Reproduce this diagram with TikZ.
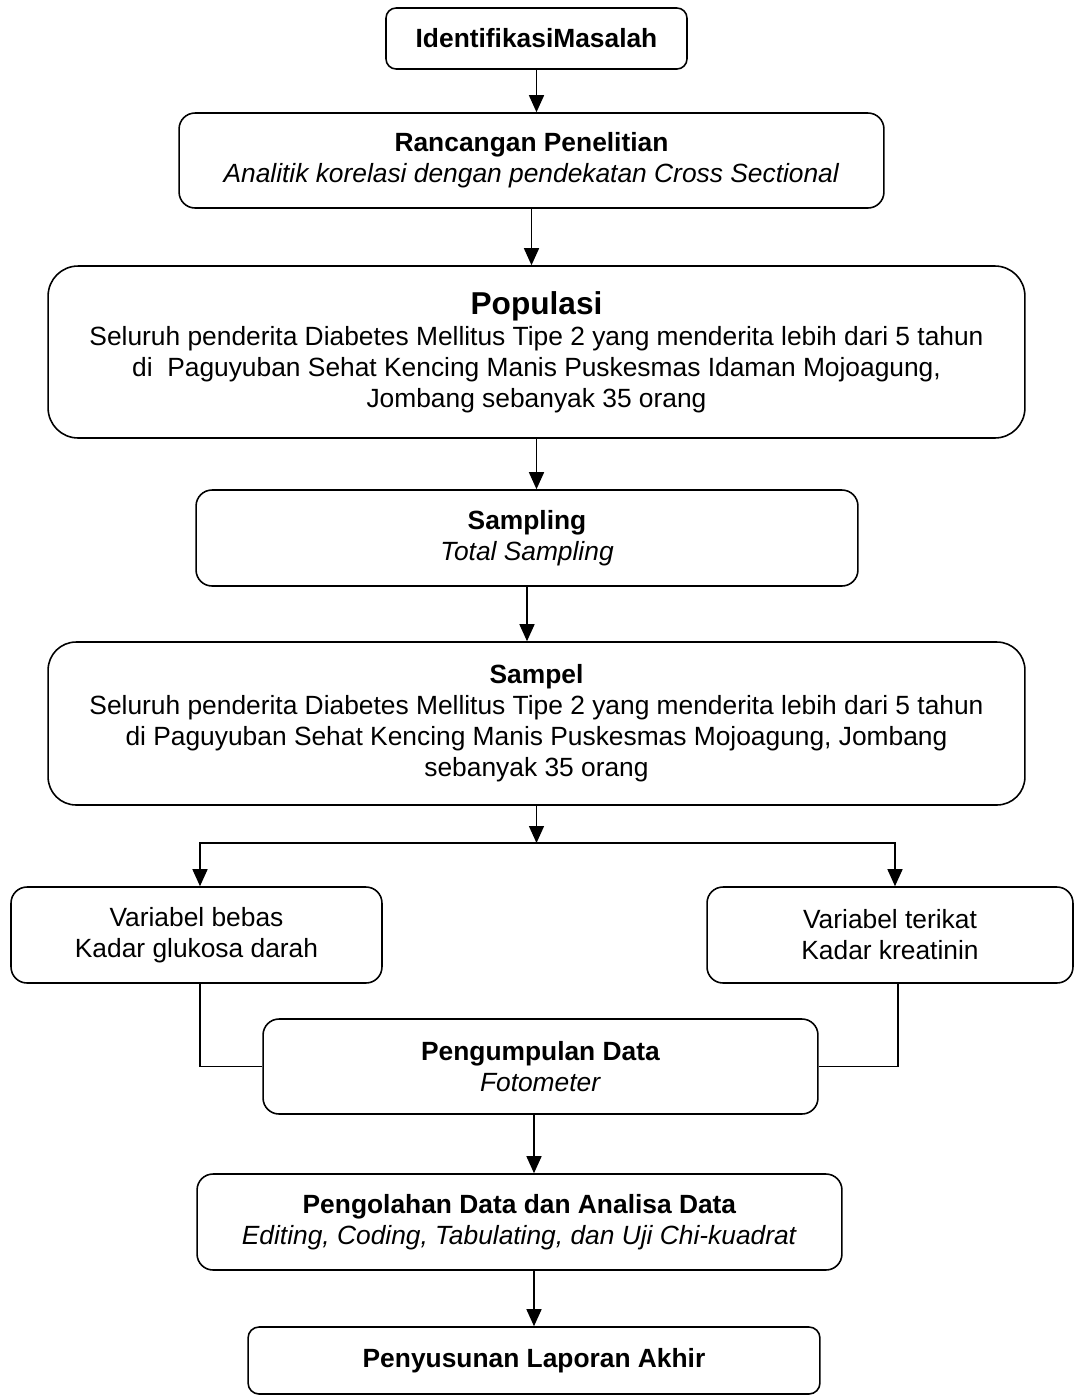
\documentclass[tikz,border=0pt]{standalone}
\usepackage{fontspec}
\setmainfont{Liberation Sans}
\usetikzlibrary{arrows.meta}

\tikzset{
  flowbox/.style={draw, line width=0.9pt, align=center, inner sep=2pt, font=\fontsize{15}{17.6}\selectfont},
  flowarrow/.style={-{Triangle[length=0.34cm,width=0.3cm]}, line width=0.8pt},
  flowline/.style={line width=0.8pt},
}

\begin{document}
\begin{tikzpicture}[x=0.02cm,y=-0.02cm]
  \useasboundingbox (0,0) rectangle (1075,1397);

  %--- Main flow ---
  \node[flowbox, rounded corners=0.2cm, minimum width=6.02cm, minimum height=1.22cm] (ident) at (536.5,38.5) {\textbf{IdentifikasiMasalah}};
  \node[flowbox, rounded corners=0.32cm, minimum width=14.1cm, minimum height=1.9cm] (ranc) at (531.5,160.5) {\textbf{Rancangan Penelitian}\\ \textit{Analitik korelasi dengan pendekatan Cross Sectional}};
  \node[flowbox, rounded corners=0.6cm, minimum width=19.54cm, minimum height=3.44cm] (pop) at (536.5,352) {{\fontsize{18}{21}\selectfont\textbf{Populasi}}\\ Seluruh penderita Diabetes Mellitus Tipe 2 yang menderita lebih dari 5 tahun\\ di\ \ Paguyuban Sehat Kencing Manis Puskesmas Idaman Mojoagung,\\ Jombang sebanyak 35 orang};
  \node[flowbox, rounded corners=0.32cm, minimum width=13.24cm, minimum height=1.92cm] (samp) at (527,538) {\textbf{Sampling}\\ \textit{Total Sampling}};
  \node[flowbox, rounded corners=0.56cm, minimum width=19.54cm, minimum height=3.26cm] (sampel) at (536.5,723.5) {\textbf{Sampel}\\ Seluruh penderita Diabetes Mellitus Tipe 2 yang menderita lebih dari 5 tahun\\ di Paguyuban Sehat Kencing Manis Puskesmas Mojoagung, Jombang\\ sebanyak 35 orang};

  %--- Variables ---
  \node[flowbox, rounded corners=0.32cm, minimum width=7.42cm, minimum height=1.92cm] (bebas) at (196.5,935) {Variabel bebas\\ Kadar glukosa darah};
  \node[flowbox, rounded corners=0.32cm, minimum width=7.32cm, minimum height=1.92cm] (terikat) at (890,935) {Variabel terikat\\ Kadar kreatinin};

  %--- Data processing ---
  \node[flowbox, rounded corners=0.32cm, minimum width=11.1cm, minimum height=1.9cm] (kumpul) at (540.5,1066.5) {\textbf{Pengumpulan Data}\\ \textit{Fotometer}};
  \node[flowbox, rounded corners=0.32cm, minimum width=12.9cm, minimum height=1.92cm] (olah) at (519.5,1222) {\textbf{Pengolahan Data dan Analisa Data}\\ \textit{Editing, Coding, Tabulating, dan Uji Chi-kuadrat}};
  \node[flowbox, rounded corners=0.22cm, minimum width=11.44cm, minimum height=1.34cm] (susun) at (534,1360.5) {\textbf{Penyusunan Laporan Akhir}};

  % Arrows down the main column
  \draw[flowarrow] (ident.south) -- (ident.south |- ranc.north);
  \draw[flowarrow] (ranc.south) -- (ranc.south |- pop.north);
  \draw[flowarrow] (pop.south) -- (pop.south |- samp.north);
  \draw[flowarrow] (samp.south) -- (samp.south |- sampel.north);

  % Split to the two variables
  \coordinate (split) at (536.5,843);
  \draw[flowarrow] (sampel.south) -- (split);
  \draw[flowarrow] (split) -| ([xshift=0.07cm]bebas.north);
  \draw[flowarrow] (split) -| ([xshift=0.1cm]terikat.north);

  % Variables join at data collection
  \draw[flowline] ([xshift=0.07cm]bebas.south) |- (kumpul.west);
  \draw[flowline] ([xshift=0.16cm]terikat.south) |- (kumpul.east);

  \draw[flowarrow] (kumpul.south -| susun.north) -- (susun.north |- olah.north);
  \draw[flowarrow] (olah.south -| susun.north) -- (susun.north);
\end{tikzpicture}
\end{document}
